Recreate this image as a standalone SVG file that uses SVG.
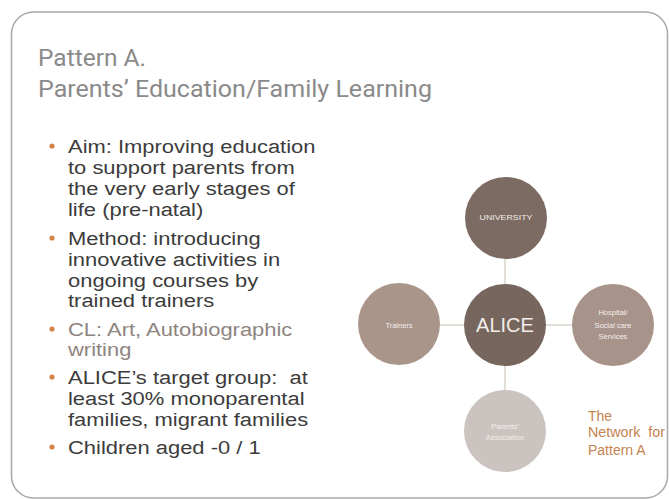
<svg xmlns="http://www.w3.org/2000/svg" width="669" height="499" viewBox="0 0 669 499">
<style>
.title{font-family:Roboto,"Liberation Sans",sans-serif;font-size:23px;fill:#8a8a8a}
.body{font-family:"Liberation Sans",Arial,sans-serif;font-size:18.6px;fill:#3c3c3c}
.cl{fill:#8e8480}
.dot{fill:#d4844a}
.small{font-family:"Liberation Sans",Arial,sans-serif;font-size:7.5px;fill:#f3eeea;text-anchor:middle}
.net{font-family:"Liberation Sans",Arial,sans-serif;font-size:14px;fill:#c4834f}
.conn{stroke:#dbd3cd;stroke-width:1.5}
</style>
<rect width="669" height="499" fill="#ffffff"/>
<rect x="11.5" y="12" width="656" height="486" rx="22" fill="#ffffff" stroke="#a9a9a9" stroke-width="1.5"/>
<text class="title" x="38" y="66" textLength="108" lengthAdjust="spacingAndGlyphs">Pattern A.</text>
<text class="title" x="38" y="97" textLength="394" lengthAdjust="spacingAndGlyphs">Parents’ Education/Family Learning</text>
<g id="bullets">
<circle class="dot" cx="52" cy="146" r="2.6"/>
<circle class="dot" cx="52" cy="238" r="2.6"/>
<circle class="dot" cx="52" cy="329" r="2.6"/>
<circle class="dot" cx="52" cy="377" r="2.6"/>
<circle class="dot" cx="52" cy="447" r="2.6"/>
<g transform="translate(68,0) scale(1.18,1)">
<text class="body" x="0" y="153">Aim: Improving education</text>
<text class="body" x="0" y="174">to support parents from</text>
<text class="body" x="0" y="195">the very early stages of</text>
<text class="body" x="0" y="216">life (pre-natal)</text>
<text class="body" x="0" y="245">Method: introducing</text>
<text class="body" x="0" y="266">innovative activities in</text>
<text class="body" x="0" y="287">ongoing courses by</text>
<text class="body" x="0" y="307">trained trainers</text>
<text class="body cl" x="0" y="336">CL: Art, Autobiographic</text>
<text class="body cl" x="0" y="356">writing</text>
<text class="body" x="0" y="384" xml:space="preserve">ALICE’s target group:  at</text>
<text class="body" x="0" y="405">least 30% monoparental</text>
<text class="body" x="0" y="426">families, migrant families</text>
<text class="body" x="0" y="454">Children aged -0 / 1</text>
</g>
</g>
<g id="connectors">
<line class="conn" x1="505" y1="218" x2="505" y2="431"/>
<line class="conn" x1="399" y1="325" x2="613" y2="325"/>
</g>
<g id="university">
<circle cx="506" cy="218" r="41" fill="#7b6b62"/>
<text class="small" x="506" y="219.5" textLength="53" lengthAdjust="spacingAndGlyphs">UNIVERSITY</text>
</g>
<g id="trainers">
<circle cx="399" cy="324" r="41" fill="#a9958a"/>
<text class="small" x="399" y="328">Trainers</text>
</g>
<g id="hospital">
<circle cx="613" cy="325" r="41" fill="#a8938a"/>
<text class="small" x="613" y="315">Hospital/</text>
<text class="small" x="613" y="328">Social care</text>
<text class="small" x="613" y="339">Services</text>
</g>
<g id="parents">
<circle cx="505" cy="431" r="41" fill="#cbc3c0"/>
<text class="small" x="505" y="429">Parents'</text>
<text class="small" x="505" y="440">Association</text>
</g>
<g id="alice">
<circle cx="505" cy="325" r="41" fill="#76665d"/>
<text x="505" y="332" font-family="'Liberation Sans',Arial,sans-serif" font-size="20" fill="#f2eeeb" text-anchor="middle">ALICE</text>
</g>
<g id="caption">
<text class="net" x="588" y="421">The</text>
<text class="net" x="588" y="437" textLength="77" lengthAdjust="spacingAndGlyphs" xml:space="preserve">Network  for</text>
<text class="net" x="588" y="455">Pattern A</text>
</g>
</svg>
